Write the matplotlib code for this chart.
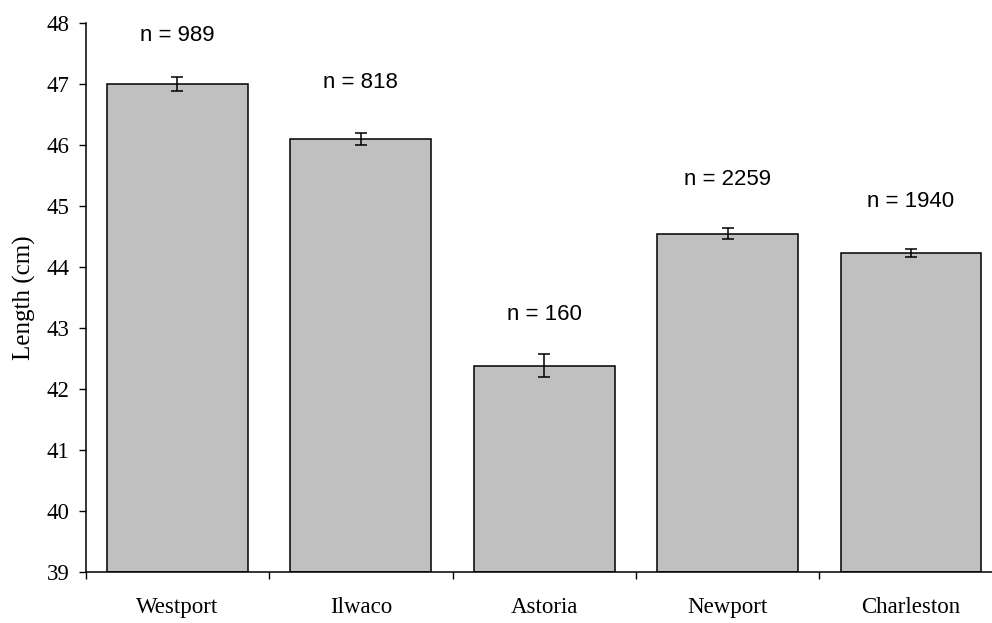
import numpy as np
import matplotlib.pyplot as plt

sites = ["Westport", "Ilwaco", "Astoria", "Newport", "Charleston"]
mean_length = [47.0, 46.1, 42.38, 44.54, 44.23]
std_err = [0.11, 0.10, 0.19, 0.09, 0.06]
sample_n = [989, 818, 160, 2259, 1940]

# heights of the "n = ..." labels, in cm
label_y = [47.79, 47.02, 43.22, 45.44, 45.08]

serif = "Liberation Serif"
sans = "Liberation Sans"

fig = plt.figure(figsize=(9.92, 6.23), dpi=100)
ax = fig.add_axes([0.0864, 0.0823, 0.9244, 0.8808])

x = np.arange(len(sites))
ax.bar(x, [m - 39 for m in mean_length], bottom=39, width=0.768,
       color="#C0C0C0", edgecolor="black", linewidth=1.1, zorder=2)
ax.errorbar(x, mean_length, yerr=std_err, fmt="none", ecolor="black",
            elinewidth=1.1, capsize=4.6, capthick=1.1, zorder=3)

for xi, yi, n in zip(x, label_y, sample_n):
    ax.text(xi, yi, f"n = {n}", ha="center", va="center",
            fontsize=16, family=sans)

ax.set_xlim(-0.5, len(sites) - 0.5)
ax.set_ylim(39, 48)
ax.set_yticks(range(39, 49))
ax.set_yticklabels([str(v) for v in range(39, 49)], family=serif, fontsize=16.5)

# ticks between categories, labels in the middle
ax.set_xticks(np.arange(len(sites) + 1) - 0.5)
ax.set_xticklabels([])
ax.set_xticks(x, minor=True)
ax.set_xticklabels(sites, minor=True, family=serif, fontsize=16.5)
ax.tick_params(axis="x", which="major", direction="out", length=5, width=1)
ax.tick_params(axis="x", which="minor", length=0, pad=18)
ax.tick_params(axis="y", direction="out", length=5, width=1, pad=6.5)

ax.set_ylabel("Length (cm)", family=serif, fontsize=18, labelpad=8)

for side in ("top", "right"):
    ax.spines[side].set_visible(False)
for side in ("left", "bottom"):
    ax.spines[side].set_linewidth(1.1)

fig.savefig("out.png", dpi=100)
